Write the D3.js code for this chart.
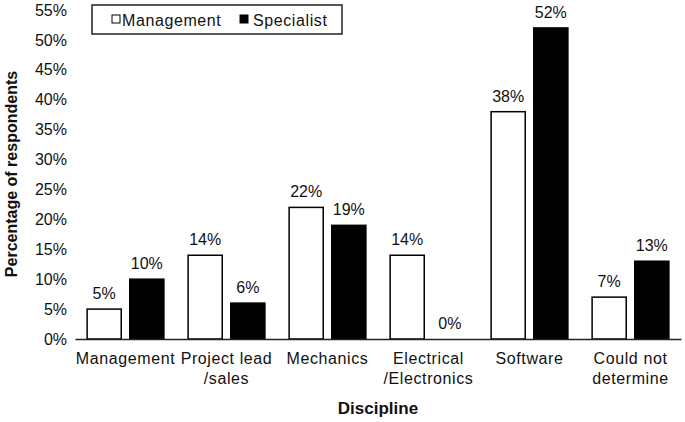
<!DOCTYPE html>
<html>
<head>
<meta charset="utf-8">
<script src="https://cdn.jsdelivr.net/npm/d3@7"></script>
<style>
  html, body { margin: 0; padding: 0; background: #fff; }
  svg { display: block; font-family: "Liberation Sans", Arial, sans-serif; }
</style>
</head>
<body>
<svg id="chart" width="685" height="422"></svg>
<script>
const categories = [["Management"], ["Project lead", "/sales"], ["Mechanics"], ["Electrical", "/Electronics"], ["Software"], ["Could not", "determine"]];
const seriesNames = ["Management", "Specialist"];
const management = [5, 14, 22, 14, 38, 7];
const specialist = [10, 6, 19, 0, 52, 13];
const yTicks = [0, 5, 10, 15, 20, 25, 30, 35, 40, 45, 50, 55];

(function () {
const svg = d3.select("#chart");
const mLeft = 75, mRight = 681, mTop = 10, mBottom = 339;
const fs = 16;

const x = d3.scaleBand().domain(d3.range(categories.length)).range([mLeft, mRight])
  .paddingInner(0.24).paddingOuter(0.12);
const xs = d3.scaleBand().domain(seriesNames).range([0, x.bandwidth()]).paddingInner(0.2);
const y = d3.scaleLinear().domain([0, 55]).range([mBottom, mTop]);

const fills = { "Management": "#fff", "Specialist": "#000" };
const data = categories.map((c, i) => ({ i, vals: [
  { s: "Management", v: management[i] }, { s: "Specialist", v: specialist[i] }] }));

// y axis labels (no line)
const yAxis = d3.axisLeft(y).tickValues(yTicks).tickFormat(d => d + "%").tickSize(0).tickPadding(8);
const yg = svg.append("g").attr("transform", `translate(${mLeft},0)`).call(yAxis);
yg.select(".domain").remove();
yg.selectAll("text").attr("font-size", fs).attr("fill", "#111")
  .attr("font-family", "Liberation Sans, Arial, sans-serif");

// bars
const groups = svg.append("g").selectAll("g").data(data).join("g")
  .attr("transform", d => `translate(${x(d.i)},0)`);
groups.selectAll("rect").data(d => d.vals).join("rect")
  .attr("x", d => xs(d.s)).attr("width", xs.bandwidth())
  .attr("y", d => y(d.v)).attr("height", d => y(0) - y(d.v))
  .attr("fill", d => fills[d.s])
  .attr("stroke", "#000").attr("stroke-width", 1.5);
groups.selectAll("text").data(d => d.vals).join("text")
  .attr("x", d => xs(d.s) + xs.bandwidth() / 2)
  .attr("y", d => y(d.v) - 10)
  .attr("text-anchor", "middle").attr("font-size", fs).attr("fill", "#111")
  .text(d => d.v + "%");

// baseline / x axis
const xAxis = d3.axisBottom(x).tickSize(0).tickFormat("");
const xg = svg.append("g").attr("transform", `translate(0,${mBottom})`).call(xAxis);
xg.select(".domain").attr("stroke", "#222").attr("stroke-width", 1.5);
xg.selectAll(".tick").each(function (d) {
  const t = d3.select(this).append("text").attr("text-anchor", "middle")
    .attr("font-size", fs).attr("letter-spacing", "0.6px").attr("fill", "#111");
  categories[d].forEach((line, k) => {
    t.append("tspan").attr("x", 0).attr("y", 25 + k * 20).text(line);
  });
});

// axis titles
svg.append("text").attr("x", (mLeft + mRight) / 2).attr("y", 414)
  .attr("text-anchor", "middle").attr("font-size", 17).attr("font-weight", "bold")
  .attr("fill", "#111").text("Discipline");
svg.append("text").attr("transform", "translate(17,174) rotate(-90)")
  .attr("text-anchor", "middle").attr("font-size", 16).attr("font-weight", "bold")
  .attr("fill", "#111").text("Percentage of respondents");

// legend
const lg = svg.append("g");
lg.append("rect").attr("x", 92).attr("y", 5).attr("width", 250).attr("height", 29)
  .attr("fill", "#fff").attr("stroke", "#222").attr("stroke-width", 1.5);
const items = [{ s: "Management", mx: 112, tx: 122 }, { s: "Specialist", mx: 240, tx: 253 }];
items.forEach(it => {
  lg.append("rect").attr("x", it.mx).attr("y", 15).attr("width", 8).attr("height", 8)
    .attr("fill", fills[it.s]).attr("stroke", "#000").attr("stroke-width", 1);
  lg.append("text").attr("x", it.tx).attr("y", 25.5).attr("font-size", fs)
    .attr("letter-spacing", "0.6px").attr("fill", "#111").text(it.s);
});
})();
</script>
</body>
</html>
